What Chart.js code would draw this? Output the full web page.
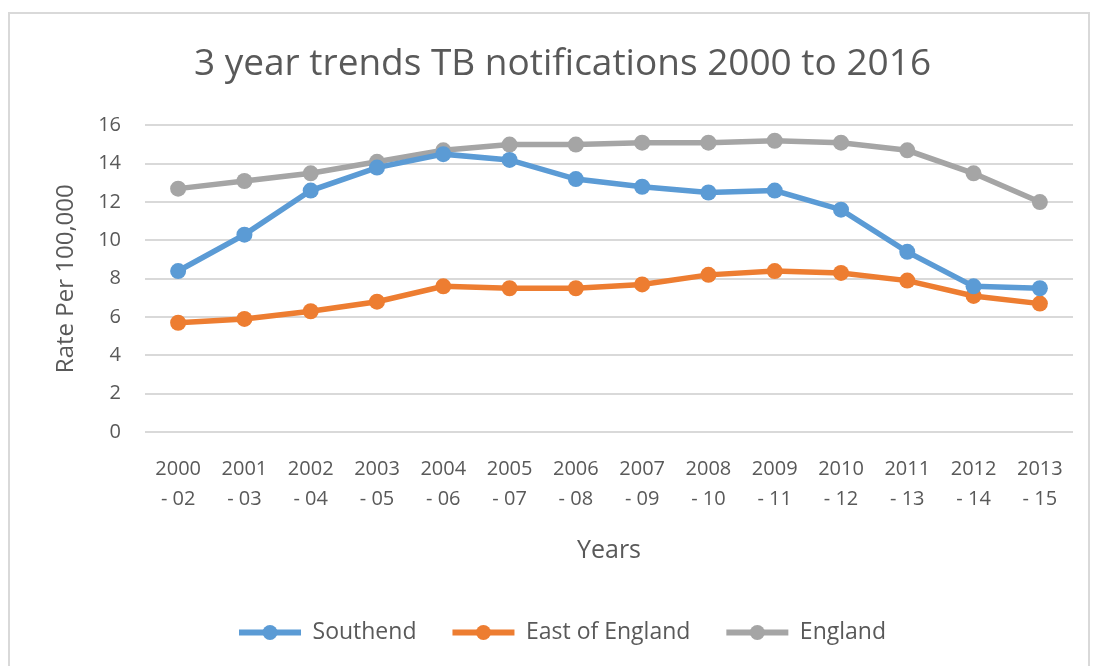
<!DOCTYPE html>
<html>
<head>
<meta charset="utf-8">
<script src="https://cdn.jsdelivr.net/npm/chart.js@4/dist/chart.umd.min.js"></script>
<style>
  html, body { margin: 0; padding: 0; background: #fff; }
  #frame { position: absolute; left: 8px; top: 12px; width: 1078px; height: 660px;
           border-left: 2px solid #d9d9d9; border-top: 2px solid #d9d9d9; border-right: 2px solid #d9d9d9; }
  #wrap { position: absolute; left: 0; top: 0; width: 1093px; height: 666px; }
</style>
</head>
<body>
<div id="frame"></div>
<div id="wrap"><canvas id="myChart"></canvas></div>
<script>
var periods = [["2000", "- 02"], ["2001", "- 03"], ["2002", "- 04"], ["2003", "- 05"], ["2004", "- 06"],
               ["2005", "- 07"], ["2006", "- 08"], ["2007", "- 09"], ["2008", "- 10"], ["2009", "- 11"],
               ["2010", "- 12"], ["2011", "- 13"], ["2012", "- 14"], ["2013", "- 15"]];
var southend = [8.4, 10.3, 12.6, 13.8, 14.5, 14.2, 13.2, 12.8, 12.5, 12.6, 11.6, 9.4, 7.6, 7.5];
var eastOfEngland = [5.7, 5.9, 6.3, 6.8, 7.6, 7.5, 7.5, 7.7, 8.2, 8.4, 8.3, 7.9, 7.1, 6.7];
var england = [12.7, 13.1, 13.5, 14.1, 14.7, 15.0, 15.0, 15.1, 15.1, 15.2, 15.1, 14.7, 13.5, 12.0];
var yTicks = [0, 2, 4, 6, 8, 10, 12, 14, 16];

var grey = "#595959";
var font = "'Open Sans', 'Liberation Sans', sans-serif";

function series(label, data, color) {
  return {
    label: label,
    data: data,
    borderColor: color,
    backgroundColor: color,
    borderWidth: 5.5,
    pointRadius: 8,
    pointHoverRadius: 8,
    pointBorderWidth: 0,
    pointBackgroundColor: color,
    tension: 0
  };
}

// little dot in the middle of every legend line, like the office chart
var legendDots = {
  id: "legendDots",
  afterDraw: function(chart) {
    var lg = chart.legend, ctx = chart.ctx;
    if (!lg || !lg.legendHitBoxes) return;
    lg.legendHitBoxes.forEach(function(b, i) {
      var c = chart.data.datasets[i].borderColor;
      ctx.save();
      ctx.fillStyle = c;
      ctx.beginPath();
      ctx.arc(b.left + lg.options.labels.boxWidth / 2, b.top + b.height / 2, 7.5, 0, Math.PI * 2);
      ctx.fill();
      ctx.restore();
    });
  }
};

new Chart("myChart", {
  type: "line",
  data: {
    labels: periods,
    datasets: [
      series("Southend", southend, "#5B9BD5"),
      series("East of England", eastOfEngland, "#ED7D31"),
      series("England", england, "#A5A5A5")
    ]
  },
  plugins: [legendDots],
  options: {
    responsive: true,
    maintainAspectRatio: false,
    animation: false,
    layout: { padding: { left: 52, right: 20, top: 0, bottom: 12 } },
    plugins: {
      title: {
        display: true,
        text: "3 year trends TB notifications 2000 to 2016",
        color: grey,
        font: { family: font, size: 37, weight: "normal", lineHeight: 1.2 },
        padding: { top: 42, bottom: 39 }
      },
      legend: {
        position: "bottom",
        labels: {
          color: grey,
          font: { family: font, size: 23 },
          boxWidth: 62,
          boxHeight: 6,
          padding: 36,
          generateLabels: function(chart) {
            var items = Chart.defaults.plugins.legend.labels.generateLabels(chart);
            items.forEach(function(it) { it.lineWidth = 0; });
            return items;
          }
        }
      },
      tooltip: { enabled: false }
    },
    scales: {
      x: {
        offset: true,
        grid: { display: false, drawTicks: false },
        border: { display: false },
        ticks: {
          color: grey,
          font: { family: font, size: 20, lineHeight: 1.5 },
          padding: 22,
          maxRotation: 0,
          autoSkip: false
        },
        title: {
          display: true,
          text: "Years",
          color: grey,
          font: { family: font, size: 25, lineHeight: 1.2 },
          padding: { top: 0, bottom: 19 }
        }
      },
      y: {
        min: 0,
        max: 16,
        afterBuildTicks: function(axis) {
          axis.ticks = yTicks.map(function(v) { return { value: v }; });
        },
        afterFit: function(axis) { axis.width = 93; },
        grid: { color: "#d9d9d9", lineWidth: 2, drawTicks: false },
        border: { display: false },
        ticks: {
          color: grey,
          font: { family: font, size: 20 },
          padding: 24
        },
        title: {
          display: true,
          text: "Rate Per 100,000",
          color: grey,
          font: { family: font, size: 24, lineHeight: 1.2 },
          padding: 0
        }
      }
    }
  }
});
</script>
</body>
</html>
